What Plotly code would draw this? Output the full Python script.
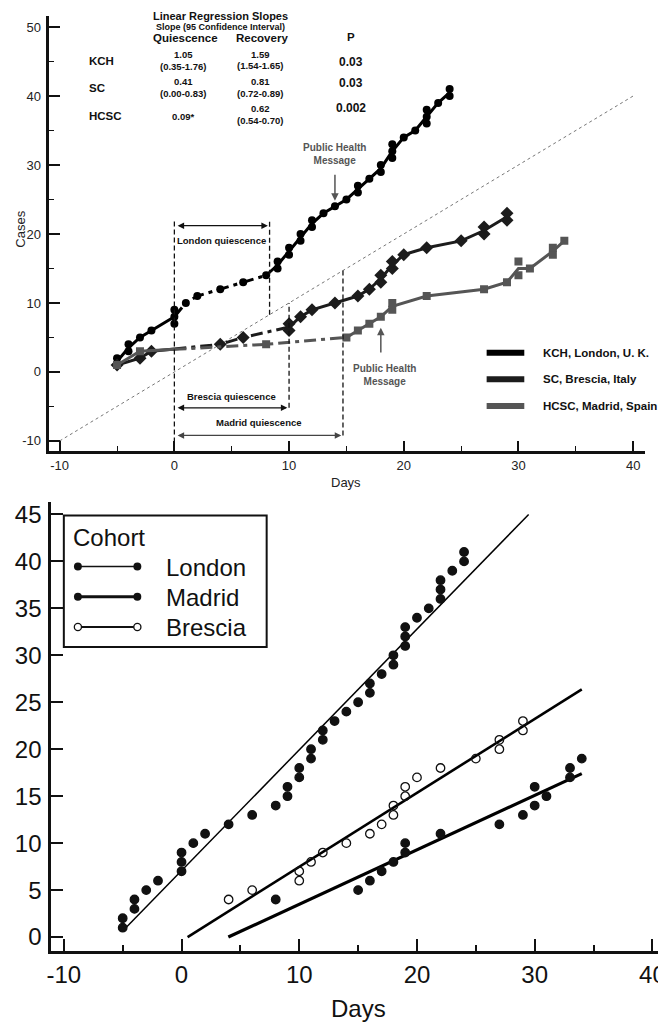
import numpy as np
import pandas as pd
import plotly.graph_objects as go

# The page body has an 8px margin, so the figure is drawn 8px smaller and
# every reference pixel position is shifted by OFF.
OFF = 8
W, H = 666 - OFF, 1025 - OFF

# ---------------- data (days, cumulative cases) ----------------
london_days = [-5, -5, -4, -4, -3, -2, 0, 0, 0, 1, 2, 4, 6, 8, 9, 9, 10, 10, 11, 11, 12, 12,
               13, 14, 15, 16, 16, 17, 18, 18, 19, 19, 19, 20, 21, 22, 22, 22, 23, 24, 24]
london_cases = [1, 2, 3, 4, 5, 6, 7, 8, 9, 10, 11, 12, 13, 14, 15, 16, 17, 18, 19, 20, 21, 22,
                23, 24, 25, 26, 27, 28, 29, 30, 31, 32, 33, 34, 35, 36, 37, 38, 39, 40, 41]

brescia_early_days = [-5, -3, -2]
brescia_early_cases = [1, 2, 3]
brescia_days = [4, 6, 10, 10, 11, 12, 14, 16, 17, 18, 18, 19, 19, 20, 22, 25, 27, 27, 29, 29]
brescia_cases = [4, 5, 6, 7, 8, 9, 10, 11, 12, 13, 14, 15, 16, 17, 18, 19, 20, 21, 22, 23]

madrid_early_days = [-5, -3]
madrid_early_cases = [1, 3]
madrid_days = [8, 15, 16, 17, 18, 19, 19, 22, 27, 29, 30, 30, 31, 33, 33, 34]
madrid_cases = [4, 5, 6, 7, 8, 9, 10, 11, 12, 13, 14, 16, 15, 17, 18, 19]

quiescence_start = 0
quiescence_end = {"London": 8.3, "Brescia": 10, "Madrid": 14.7}

# regression-slope table
table_rows = ["KCH", "SC", "HCSC"]
quiescence_slopes = ["1.05", "0.41", "0.09*"]
quiescence_ci = ["(0.35-1.76)", "(0.00-0.83)", ""]
recovery_slopes = ["1.59", "0.81", "0.62"]
recovery_ci = ["(1.54-1.65)", "(0.72-0.89)", "(0.54-0.70)"]
p_values = ["0.03", "0.03", "0.002"]

top_legend = ["KCH, London, U. K.", "SC, Brescia, Italy", "HCSC, Madrid, Spain"]
bottom_legend = ["London", "Madrid", "Brescia"]

top_xticks = [-10, 0, 10, 20, 30, 40]
top_yticks = [-10, 0, 10, 20, 30, 40, 50]
bot_xticks = [-10, 0, 10, 20, 30, 40]
bot_yticks = [0, 5, 10, 15, 20, 25, 30, 35, 40, 45]
identity_days = [-10, 40]

# ---------------- styling ----------------
FONT = "Liberation Sans, Arial, Helvetica, sans-serif"
C_LON, C_BRE, C_MAD = "#000000", "#1c1c1c", "#555555"


def px(x, y):
    return (x - OFF) / W, 1 - (y - OFF) / H


def mean_line(days, cases):
    df = pd.DataFrame({"d": days, "c": cases}).groupby("d", as_index=False)["c"].mean()
    return df["d"].to_numpy(float), df["c"].to_numpy(float)


def segment(xs, ys, a, b):
    inner = (xs > a) & (xs < b)
    sx = np.concatenate([[a], xs[inner], [b]])
    return sx, np.interp(sx, xs, ys)


fig = go.Figure()
shapes = []
annotations = []


def note(text, x, y, size, color="#111", xanchor="center", bold=True, angle=0, ref="paper"):
    if ref == "paper":
        x, y = px(x, y)
        xr, yr = "paper", "paper"
    else:
        xr, yr = "x", "y"
    annotations.append(dict(x=x, y=y, xref=xr, yref=yr, xanchor=xanchor, yanchor="middle",
                            showarrow=False, textangle=angle,
                            text=("<b>%s</b>" % text) if bold else text,
                            font=dict(family=FONT, size=size, color=color)))


# ---------------- top panel ----------------
fig.add_trace(go.Scatter(x=identity_days, y=identity_days, mode="lines", xaxis="x", yaxis="y",
                         line=dict(color="#777", width=1, dash="dot"), hoverinfo="skip"))

cohorts = [
    ("London", london_days, london_cases, C_LON, "circle", 8),
    ("Brescia", brescia_early_days + brescia_days, brescia_early_cases + brescia_cases, C_BRE, "diamond", 10),
    ("Madrid", madrid_early_days + madrid_days, madrid_early_cases + madrid_cases, C_MAD, "square", 8),
]
for name, d, c, col, sym, ms in cohorts:
    xs, ys = mean_line(d, c)
    qe = quiescence_end[name]
    for (a, b, dash) in [(xs.min(), quiescence_start, "solid"),
                         (quiescence_start, qe, "12px,5px,4px,5px"),
                         (qe, xs.max(), "solid")]:
        sx, sy = segment(xs, ys, a, b)
        fig.add_trace(go.Scatter(x=sx, y=sy, mode="lines", xaxis="x", yaxis="y",
                                 line=dict(color=col, width=3, dash=dash), hoverinfo="skip"))
    fig.add_trace(go.Scatter(x=d, y=c, mode="markers", xaxis="x", yaxis="y",
                             marker=dict(symbol=sym, size=ms, color=col), hoverinfo="skip"))

# vertical quiescence boundary lines
vlines = [
    (quiescence_start, -11.4, 22),
    (quiescence_end["London"], quiescence_end["London"], 22),
    (quiescence_end["Brescia"], -5.2, quiescence_end["Brescia"]),
    (quiescence_end["Madrid"], -9.2, quiescence_end["Madrid"]),
]
for xv, y0, y1 in vlines:
    shapes.append(dict(type="line", xref="x", yref="y", x0=xv, x1=xv, y0=y0, y1=y1,
                       line=dict(color="#111", width=1.3, dash="5px,3px")))

# quiescence arrows + labels
q_arrows = [("London quiescence", quiescence_end["London"], 21.2, 19.0, "#111"),
            ("Brescia quiescence", quiescence_end["Brescia"], -5.2, -3.6, "#111"),
            ("Madrid quiescence", quiescence_end["Madrid"], -9.2, -7.4, "#444")]
for label, xe, ya, yt, col in q_arrows:
    annotations.append(dict(x=xe - 0.15, y=ya, ax=quiescence_start + 0.15, ay=ya, xref="x", yref="y",
                            axref="x", ayref="y", text="", showarrow=True, arrowhead=2,
                            arrowside="end+start", arrowsize=1, arrowwidth=1.3, arrowcolor=col))
    note(label, (quiescence_start + xe) / 2, yt, 9.5, ref="data")

# public health message
for xt, yt, xa, ya0, ya1 in [(14, 31.6, 14, 28.8, 24.8), (18.3, -0.4, 18, 2.6, 6.4)]:
    note("Public Health<br>Message", xt, yt, 10, color="#555", ref="data")
    annotations.append(dict(x=xa, y=ya1, ax=xa, ay=ya0, xref="x", yref="y", axref="x", ayref="y",
                            text="", showarrow=True, arrowhead=2, arrowsize=1, arrowwidth=1.5,
                            arrowcolor="#555"))

# top legend
for i, (lab, col) in enumerate(zip(top_legend, [C_LON, C_BRE, C_MAD])):
    yy = 352 + i * 26.7
    x0, y0 = px(486, yy - 3)
    x1, y1 = px(524, yy + 3)
    shapes.append(dict(type="rect", xref="paper", yref="paper", x0=x0, x1=x1, y0=y1, y1=y0,
                       fillcolor=col, line=dict(width=0)))
    note(lab, 541, yy, 11.5, xanchor="left")

# table
note("Linear Regression Slopes", 217, 15.5, 11)
note("Slope (95 Confidence Interval)", 217, 26, 9)
note("Quiescence", 182, 37, 11.5)
note("Recovery", 259, 37, 11.5)
note("P", 349, 36, 11.5)
row_y = [60, 87.5, 115]
p_y = [61, 82.5, 107.5]
for i, r in enumerate(table_rows):
    note(r, 83, row_y[i], 11.5, xanchor="left")
    if quiescence_ci[i]:
        note(quiescence_slopes[i], 180, row_y[i] - 6.5, 9.5)
        note(quiescence_ci[i], 180, row_y[i] + 5.5, 9.5)
    else:
        note(quiescence_slopes[i], 180, row_y[i] + 1, 9.5)
    dy = -7 if i == 2 else -6.5
    note(recovery_slopes[i], 257.5, row_y[i] + dy, 9.5)
    note(recovery_ci[i], 257.5, row_y[i] + dy + 11.5, 9.5)
    note(p_values[i], 349, p_y[i], 12)

# axis titles (top)
note("Cases", 16, 228, 13, color="#222", bold=False, angle=-90)
note("Days", 344, 482, 13, color="#222", bold=False)

# ---------------- bottom panel ----------------
bottom = [
    ("London", london_days, london_cases, 1.5, "circle"),
    ("Madrid", madrid_days, madrid_cases, 3.2, "circle"),
    ("Brescia", brescia_days, brescia_cases, 2.6, "circle-open"),
]
all_days = london_days + madrid_days + brescia_days
x_lo, x_hi = min(all_days), max(all_days)
y_clip = (0, 45)
for name, d, c, lw, sym in bottom:
    m, b = np.polyfit(d, c, 1)
    xs = max(x_lo, (y_clip[0] - b) / m)
    xe = min(x_hi, (y_clip[1] - b) / m)
    fig.add_trace(go.Scatter(x=[xs, xe], y=[m * xs + b, m * xe + b], mode="lines", xaxis="x2", yaxis="y2",
                             line=dict(color="#000", width=lw), hoverinfo="skip"))
for name, d, c, lw, sym in bottom:
    fig.add_trace(go.Scatter(x=d, y=c, mode="markers", xaxis="x2", yaxis="y2",
                             marker=dict(symbol=sym, size=8.5, color="#111",
                                         line=dict(width=1.3, color="#111")),
                             hoverinfo="skip"))

# bottom legend box
x0, y0 = px(59.3, 515)
x1, y1 = px(264, 646.7)
shapes.append(dict(type="rect", xref="paper", yref="paper", x0=x0, x1=x1, y0=y1, y1=y0,
                   fillcolor="white", line=dict(color="#111", width=2)))
note("Cohort", 67, 537, 24, bold=False, xanchor="left")
for i, (lab, lw, open_) in enumerate(zip(bottom_legend, [1.5, 3, 2], [False, False, True])):
    yy = 566 + i * 30.3
    a, yl = px(73.5, yy)
    bpx, _ = px(133.5, yy)
    shapes.append(dict(type="line", xref="paper", yref="paper", x0=a, x1=bpx, y0=yl, y1=yl,
                       line=dict(color="#111", width=lw)))
    for cx in (73.5, 133.5):
        r = 4 if not open_ else 3.6
        cx0, cy0 = px(cx - r, yy - r)
        cx1, cy1 = px(cx + r, yy + r)
        shapes.append(dict(type="circle", xref="paper", yref="paper", x0=cx0, x1=cx1, y0=cy1, y1=cy0,
                           fillcolor="white" if open_ else "#111",
                           line=dict(color="#111", width=1.3 if open_ else 0)))
    note(lab, 160, yy + 1, 24, bold=False, xanchor="left")

note("Days", 357, 1008, 24, bold=False)

# ---------------- axes ----------------
common = dict(showline=True, linecolor="#111", showgrid=False, zeroline=False, ticks="inside",
              tickcolor="#111")


def dom_x(a, b):
    return [max(0, (a - OFF) / W), min(1, (b - OFF) / W)]


def dom_y(top, bot):
    return [1 - (bot - OFF) / H, 1 - (top - OFF) / H]


fig.update_layout(
    width=W, height=H, margin=dict(l=0, r=0, t=0, b=0),
    paper_bgcolor="white", plot_bgcolor="white", showlegend=False,
    xaxis=dict(domain=dom_x(44.7, 646), range=[-10.9, 41.05], anchor="y", linewidth=2.5,
               ticklen=10, tickwidth=2, tickvals=top_xticks, ticktext=[str(v) for v in top_xticks],
               minor=dict(tickvals=[-5, 5, 15, 25, 35], ticks="inside", ticklen=5, tickwidth=1.3,
                          tickcolor="#111"),
               tickfont=dict(family=FONT, size=13, color="#222"), ticklabelstandoff=1,
               ticklabeloverflow="allow", **common),
    yaxis=dict(domain=dom_y(15, 450), range=[-11.4, 51.6], anchor="x", linewidth=2.5,
               ticklen=11, tickwidth=2, tickvals=top_yticks, ticktext=[str(v) for v in top_yticks],
               minor=dict(tickvals=[-5, 5, 15, 25, 35, 45], ticks="inside", ticklen=5, tickwidth=1.3,
                          tickcolor="#111"),
               tickfont=dict(family=FONT, size=13, color="#222"), ticklabelstandoff=3, **common),
    xaxis2=dict(domain=dom_x(46.7, 666), range=[-11.06, 41.07], anchor="y2", linewidth=3,
                ticklen=12, tickwidth=2, tickvals=bot_xticks, ticktext=[str(v) for v in bot_xticks],
                minor=dict(tickvals=[-5, 5, 15, 25, 35], ticks="inside", ticklen=6, tickwidth=1.5,
                           tickcolor="#111"),
                tickfont=dict(family=FONT, size=24, color="#111"), ticklabelstandoff=0,
                ticklabeloverflow="allow", **common),
    yaxis2=dict(domain=dom_y(501.7, 950.7), range=[-1.46, 46.3], anchor="x2", linewidth=3,
                ticklen=12, tickwidth=2, tickvals=bot_yticks, ticktext=[str(v) for v in bot_yticks],
                tickfont=dict(family=FONT, size=24, color="#111"), ticklabelstandoff=2, **common),
    shapes=shapes, annotations=annotations,
)

fig.write_html("out.html")
